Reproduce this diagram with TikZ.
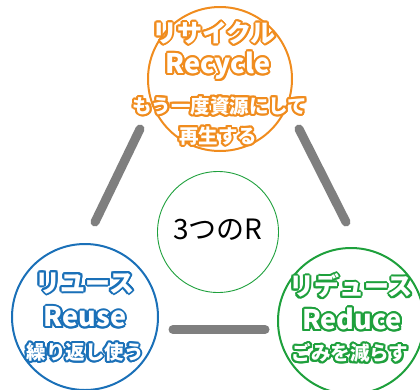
\documentclass[tikz,border=0pt]{standalone}
\usepackage{fontspec}
\newfontfamily\jp{Noto Sans CJK JP}
\definecolor{rorange}{HTML}{F08C1E}
\definecolor{rblue}{HTML}{1A70B8}
\definecolor{rgreen}{HTML}{1EA03C}
\definecolor{rgray}{HTML}{7F7F7F}
\newsavebox\halobox
\newcommand\halo[3][2pt]{%
  \sbox\halobox{#3}%
  \hbox to \wd\halobox{%
    \foreach \a in {0,22.5,...,337.5}{%
      \pgfmathsetlengthmacro\hdx{#1*cos(\a)}%
      \pgfmathsetlengthmacro\hdy{#1*sin(\a)}%
      \rlap{\kern\hdx\raise\hdy\hbox{\color{#2}#3}}}%
    \rlap{\color{white}#3}\hfil}}
\tikzset{
  bigjp/.style={inner sep=0pt, font=\jp\bfseries\fontsize{25}{27}\selectfont},
  bigen/.style={inner sep=0pt, font=\jp\bfseries\fontsize{27}{29}\selectfont},
  smalljp/.style={inner sep=0pt, font=\jp\bfseries\fontsize{19.5}{21}\selectfont},
  ring/.style={circle, line width=2pt, fill=white, inner sep=0pt},
  bar/.style={rgray, line width=9pt, line cap=round},
}
\begin{document}
\begin{tikzpicture}[x=1pt,y=-1pt]
\useasboundingbox (0,0) rectangle (420,389);
% bars
\coordinate (l1) at (140,129); \coordinate (l2) at (95,222);
\coordinate (r1) at (299,129); \coordinate (r2) at (346,222);
\coordinate (b1) at (173,329.5); \coordinate (b2) at (265,329.5);
\draw[bar] (l1) -- (l2);
\draw[bar] (r1) -- (r2);
\draw[bar] (b1) -- (b2);
% circles
\node[ring, draw=rorange, minimum size=144pt] (recycle) at (220,79) {};
\node[ring, draw=rblue, minimum size=146pt] (reuse) at (85,317) {};
\node[ring, draw=rgreen, minimum size=146pt] (reduce) at (351,321) {};
\node[circle, draw=rgreen, line width=0.9pt, minimum size=121pt, inner sep=0pt] (center) at (218,232) {};
\node[inner sep=0pt, font=\jp\fontsize{28}{30}\selectfont] (centertext) at (218,230) {3つのR};
% recycle texts
\node[bigjp] (t1a) at (214,33) {\halo{rorange}{リサイクル}};
\node[bigen] (t1b) at (218,66) {\halo{rorange}{Recycle}};
\node[smalljp] (t1c) at (220,106) {\halo{rorange}{もう一度資源にして}};
\node[smalljp] (t1d) at (218,136) {\halo{rorange}{再生する}};
% reuse texts
\node[bigjp] (t2a) at (85,283) {\halo{rblue}{リユース}};
\node[bigen] (t2b) at (85,317) {\halo{rblue}{Reuse}};
\node[smalljp] (t2c) at (85,352) {\halo{rblue}{繰り返し使う}};
% reduce texts
\node[bigjp] (t3a) at (351,286) {\halo{rgreen}{リデュース}};
\node[bigen] (t3b) at (352,319) {\halo{rgreen}{Reduce}};
\node[smalljp] (t3c) at (350,353) {\halo{rgreen}{ごみを減らす}};
\end{tikzpicture}
\end{document}
